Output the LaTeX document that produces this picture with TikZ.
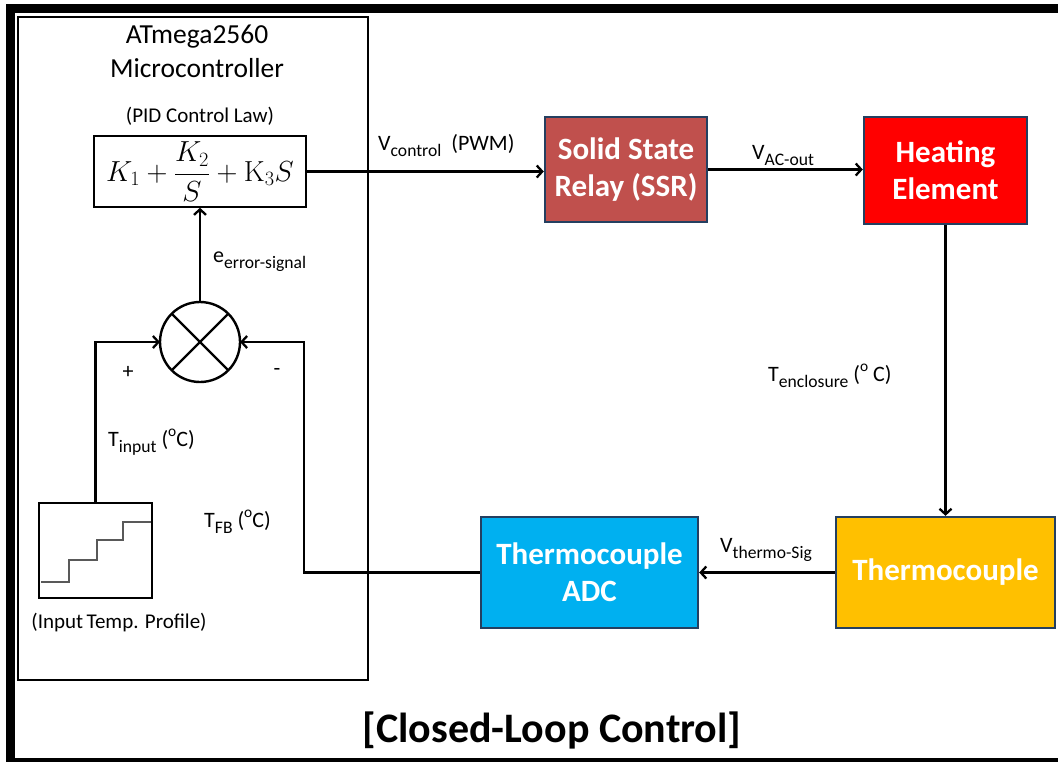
\documentclass[tikz,border=0pt]{standalone}
\usepackage{fix-cm}
\usepackage{amsmath}
\usepackage[no-math]{fontspec}
\setmainfont{Carlito}
\usetikzlibrary{arrows.meta,calc}
\definecolor{ssrc}{HTML}{C0504D}
\definecolor{hec}{HTML}{FF0000}
\definecolor{tcc}{HTML}{FFC000}
\definecolor{adcc}{HTML}{00B0F0}
\definecolor{edgec}{HTML}{243F60}
\newcommand{\mysub}[1]{\raisebox{-0.28em}{\scalebox{0.8}{#1}}}
\newcommand{\mydeg}{\raisebox{0.45em}{\scalebox{0.7}{o}}}
\begin{document}
\begin{tikzpicture}[x=1pt,y=-1pt,
  conn/.style={line width=2.3pt,-{Straight Barb[length=5.5pt,width=12pt,line width=2.3pt]}},
  block/.style={draw=edgec,line width=2.4pt,text=white,align=center,inner sep=0pt,
    font=\fontsize{31}{37}\selectfont\bfseries},
  lbl/.style={inner sep=0pt,font=\fontsize{22}{26}\selectfont},
  small/.style={inner sep=0pt,font=\fontsize{21}{25}\selectfont}
]
\useasboundingbox (0,0) rectangle (1058,761);
\draw[line width=9pt] (10,8) rectangle (1070,762);

% microcontroller box
\node[draw,line width=2.6pt,minimum width=350pt,minimum height=663pt,inner sep=0pt] (mcu) at (193,348.5) {};
\node[inner sep=0pt,anchor=base,font=\fontsize{27.5}{32}\selectfont] (t1) at (197,43) {ATmega2560};
\node[inner sep=0pt,anchor=base,font=\fontsize{27.5}{32}\selectfont] (t2) at (197,77) {Microcontroller};
\node[small,anchor=base] (pidl) at (200,122) {(PID Control Law)};

% PID box
\node[draw,line width=1.6pt,minimum width=212pt,minimum height=71pt,inner sep=0pt,
  font=\fontsize{29}{33}\selectfont] (pid) at (200,171.5) {$K_1+\dfrac{K_2}{S}+\mathrm{K}_3S$};

% summing junction
\node[circle,draw,line width=2.4pt,minimum size=80pt,inner sep=0pt,outer sep=0pt] (sum) at (200,342) {};
\draw[line width=2.4pt] (sum.north east) -- (sum.south west) (sum.north west) -- (sum.south east);

% input profile
\node[draw,line width=2.4pt,minimum width=113pt,minimum height=95pt,inner sep=0pt] (prof) at (95.5,550.5) {};
\draw[black!65,line width=1.5pt] (41,582) -- (69,582) -- (69,560) -- (97,560) -- (97,540) -- (123,540) -- (123,522) -- (151,522);
\node[small,anchor=base] (profl) at (119,628) {(Input\,Temp. Profile)};

% blocks
\node[block,fill=ssrc,minimum width=162pt,minimum height=105pt] (ssr) at (626,169.5) {Solid State\\Relay (SSR)};
\node[block,fill=hec,minimum width=163pt,minimum height=107pt] (he) at (945.5,170.5) {Heating\\Element};
\node[block,fill=tcc,minimum width=219pt,minimum height=111pt] (tc) at (945.5,572.5) {Thermocouple};
\node[block,fill=adcc,minimum width=217pt,minimum height=111pt] (adc) at (589.5,572.5) {Thermocouple\\ADC};

% connectors
\coordinate (fb) at (304,342);
\draw[conn] (pid.east) -- (pid.east -| ssr.west);
\draw[conn] (ssr.east) -- (ssr.east -| he.west);
\draw[conn] (he.south) -- (tc.north);
\draw[conn] (tc.west) -- (adc.east);
\draw[conn] (adc.west) -| (fb) -- (sum.east);
\draw[conn] (prof.north) |- (sum.west);
\draw[conn] (sum.north) -- (pid.south);

% labels
\node[lbl,anchor=base west] (lctrl) at (378,150) {V\mysub{control}\ \ (PWM)};
\node[lbl,anchor=base west] (lac) at (752,159) {V\mysub{AC-out}};
\node[lbl,anchor=base west] (lenc) at (768,381) {T\mysub{enclosure} (\mydeg\ C)};
\node[lbl,anchor=base west] (lthermo) at (720,552) {V\mysub{thermo-Sig}};
\node[lbl,anchor=base west] (lerr) at (213,262) {e\mysub{error-signal}};
\node[lbl,anchor=base west] (lin) at (108,446) {T\mysub{input} (\mydeg C)};
\node[lbl,anchor=base west] (lfb) at (204,527) {T\mysub{FB} (\mydeg C)};
\node[lbl] (plus) at (128,372) {+};
\node[lbl] (minus) at (277,372) {-};

% title
\node[inner sep=0pt,anchor=base,font=\fontsize{42}{48}\selectfont\bfseries] (title) at (552,742) {[Closed-Loop Control]};
\end{tikzpicture}
\end{document}
